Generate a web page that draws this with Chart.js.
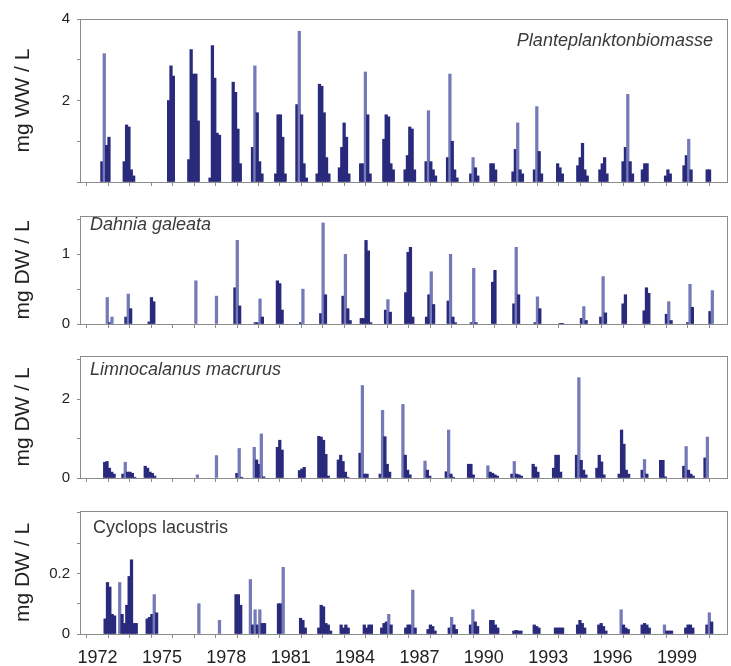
<!DOCTYPE html>
<html><head><meta charset="utf-8">
<script src="https://cdn.jsdelivr.net/npm/chart.js@4.4.1/dist/chart.umd.min.js"></script>
<style>
html,body{margin:0;padding:0;background:#fff;}
#wrap{position:relative;width:731px;height:666px;overflow:hidden;background:#fff;}
canvas{position:absolute;left:0;}
.lbl{position:absolute;font-family:"Liberation Sans",Arial,sans-serif;font-size:18px;color:#3a3a3a;font-style:italic;white-space:nowrap;line-height:18px;}
</style></head><body>
<div id="wrap">
<canvas id="c1" width="731" height="200" style="top:0px"></canvas>
<canvas id="c2" width="731" height="140" style="top:200px"></canvas>
<canvas id="c3" width="731" height="155" style="top:340px"></canvas>
<canvas id="c4" width="731" height="171" style="top:495px"></canvas>
<div class="lbl" style="top:31px;right:18px;">Planteplanktonbiomasse</div>
<div class="lbl" style="top:215px;left:90px;">Dahnia galeata</div>
<div class="lbl" style="top:360px;left:90px;">Limnocalanus macrurus</div>
<div class="lbl" style="top:518px;left:93px;font-style:normal;">Cyclops lacustris</div>
</div>
<script>
// ---- DATA ----
// each season: [year, time of first sample (fraction of year), sampled values]
const SAMPLE_STEP = 0.11; // years between consecutive samples
const xYears = [1972,1973,1974,1975,1976,1977,1978,1979,1980,1981,1982,1983,1984,1985,1986,1987,1988,1989,1990,1991,1992,1993,1994,1995,1996,1997,1998,1999,2000];
const xLabelYears = [1972,1975,1978,1981,1984,1987,1990,1993,1996,1999];

const phytoSeasons = [
 [1972,0.20,[0.5,3.15,0.9,1.1]],
 [1973,0.24,[0.5,1.4,1.35,0.3,0.15]],
 [1975,0.31,[2.0,2.85,2.6]],
 [1976,0.25,[0.55,3.25,2.65,2.65,1.5]],
 [1977,0.24,[0.1,3.35,2.55,1.2,1.15]],
 [1978,0.32,[2.45,2.2,1.3,0.45]],
 [1979,0.22,[0.85,2.85,1.7,0.5,0.2]],
 [1980,0.30,[0.2,1.65,1.65,1.1,0.2]],
 [1981,0.29,[1.9,3.7,1.65,0.45,0.1]],
 [1982,0.23,[0.2,2.4,2.35,1.7,0.6,0.2]],
 [1983,0.27,[0.35,0.85,1.45,1.1,0.2]],
 [1984,0.26,[0.45,0.45,2.7,1.65,0.2]],
 [1985,0.34,[1.05,1.65,1.6,0.45,0.3]],
 [1986,0.33,[0.3,0.65,1.35,1.3,0.3]],
 [1987,0.31,[0.5,1.75,0.5,0.3,0.15]],
 [1988,0.31,[0.6,2.65,1.0,0.3,0.1]],
 [1989,0.39,[0.2,0.6,0.35,0.15]],
 [1990,0.33,[0.45,0.45,0.3]],
 [1991,0.36,[0.25,0.8,1.45,0.3,0.2]],
 [1992,0.36,[0.3,1.85,0.75,0.2]],
 [1993,0.44,[0.45,0.35,0.2]],
 [1994,0.38,[0.4,0.6,0.95,0.3,0.15]],
 [1995,0.41,[0.3,0.45,0.6,0.2]],
 [1996,0.49,[0.5,0.85,2.15,0.5,0.2]],
 [1997,0.39,[0.3,0.45,0.45]],
 [1998,0.47,[0.15,0.3,0.2]],
 [1999,0.33,[0.4,0.65,1.05,0.3]],
 [2000,0.41,[0.3,0.3]]
];
const daphniaSeasons = [
 [1972,0.45,[0.38,0.02,0.1]],
 [1973,0.32,[0.1,0.43,0.22]],
 [1974,0.40,[0.03,0.38,0.32]],
 [1976,0.58,[0.62]],
 [1977,0.54,[0.4]],
 [1978,0.40,[0.52,1.2,0.26]],
 [1979,0.35,[0.02,0.02,0.36,0.1]],
 [1980,0.38,[0.62,0.58,0.2]],
 [1981,0.46,[0.02,0.5]],
 [1982,0.40,[0.15,1.45,0.42]],
 [1983,0.44,[0.4,1.0,0.22,0.05]],
 [1984,0.29,[0.08,0.08,1.2,1.05,0.02]],
 [1985,0.42,[0.2,0.35,0.17]],
 [1986,0.36,[0.45,1.03,1.1,0.1]],
 [1987,0.33,[0.1,0.42,0.75,0.28]],
 [1988,0.34,[0.33,1.0,0.1,0.02]],
 [1989,0.42,[0.02,0.8,0.02]],
 [1990,0.41,[0.6,0.77]],
 [1991,0.40,[0.29,1.1,0.42]],
 [1992,0.39,[0.02,0.39,0.22]],
 [1993,0.56,[0.01,0.01]],
 [1994,0.55,[0.08,0.25,0.05]],
 [1995,0.45,[0.1,0.68,0.16]],
 [1996,0.49,[0.29,0.42]],
 [1997,0.47,[0.19,0.52,0.44]],
 [1998,0.51,[0.14,0.32,0.05]],
 [1999,0.50,[0.02,0.57,0.24]],
 [2000,0.54,[0.18,0.48]]
];
const limnoSeasons = [
 [1972,0.33,[0.4,0.42,0.25,0.15,0.1]],
 [1973,0.18,[0.1,0.4,0.15,0.15,0.12,0.02]],
 [1974,0.22,[0.3,0.25,0.15,0.12,0.05]],
 [1976,0.65,[0.08]],
 [1977,0.54,[0.57]],
 [1978,0.49,[0.12,0.75,0.02]],
 [1979,0.30,[0.78,0.46,0.35,1.12,0.03]],
 [1980,0.38,[0.78,0.96,0.71]],
 [1981,0.41,[0.19,0.23,0.27]],
 [1982,0.31,[1.06,1.04,0.96,0.6,0.05]],
 [1983,0.22,[0.46,0.58,0.42,0.15,0.02]],
 [1984,0.23,[0.63,2.35,0.1,0.1]],
 [1985,0.17,[0.1,1.72,1.05,0.35,0.15]],
 [1986,0.23,[1.87,0.58,0.2,0.08]],
 [1987,0.26,[0.43,0.2,0.05]],
 [1988,0.25,[0.16,1.22,0.1,0.02]],
 [1989,0.29,[0.35,0.35,0.08]],
 [1990,0.19,[0.31,0.15,0.12,0.08,0.05]],
 [1991,0.31,[0.1,0.42,0.1,0.08,0.05]],
 [1992,0.30,[0.35,0.28,0.15]],
 [1993,0.25,[0.25,0.58,0.58,0.15]],
 [1994,0.32,[0.58,2.55,0.45,0.2,0.08]],
 [1995,0.27,[0.25,0.58,0.41,0.08]],
 [1996,0.31,[0.1,1.22,0.86,0.2,0.1]],
 [1997,0.38,[0.2,0.47,0.1]],
 [1998,0.24,[0.45,0.45,0.03]],
 [1999,0.32,[0.3,0.8,0.2,0.1,0.05]],
 [2000,0.31,[0.51,1.04]]
];
const cyclopsSeasons = [
 [1972,0.35,[0.05,0.17,0.155,0.065,0.06]],
 [1973,0.03,[0.17,0.065,0.035,0.095,0.19,0.245,0.035,0.035]],
 [1974,0.31,[0.05,0.055,0.065,0.13,0.07]],
 [1976,0.72,[0.1]],
 [1977,0.68,[0.045]],
 [1978,0.45,[0.13,0.13,0.095]],
 [1979,0.12,[0.18,0.03,0.08,0.03,0.08,0.035,0.035]],
 [1980,0.43,[0.1,0.1,0.22]],
 [1981,0.46,[0.052,0.045,0.02]],
 [1982,0.31,[0.02,0.095,0.09,0.035,0.03,0.01]],
 [1983,0.35,[0.03,0.02,0.03,0.02]],
 [1984,0.43,[0.03,0.02,0.03,0.03]],
 [1985,0.24,[0.02,0.035,0.04,0.065,0.03]],
 [1986,0.36,[0.02,0.03,0.03,0.145,0.02]],
 [1987,0.40,[0.015,0.03,0.025,0.01]],
 [1988,0.39,[0.02,0.055,0.03,0.015]],
 [1989,0.38,[0.03,0.08,0.04,0.025]],
 [1990,0.32,[0.045,0.045,0.03,0.02]],
 [1991,0.40,[0.01,0.012,0.01,0.01]],
 [1992,0.35,[0.03,0.025,0.02]],
 [1993,0.34,[0.02,0.02,0.02,0.02]],
 [1994,0.37,[0.03,0.045,0.035,0.02]],
 [1995,0.36,[0.03,0.035,0.025,0.01]],
 [1996,0.40,[0.08,0.03,0.02,0.015]],
 [1997,0.38,[0.03,0.035,0.03,0.02]],
 [1998,0.42,[0.03,0.01,0.01,0.01]],
 [1999,0.41,[0.02,0.03,0.03,0.02]],
 [2000,0.40,[0.03,0.07,0.04]]
];

const phytoYTicks = [0,1,2,3,4];          const phytoYLabels = ['','','2','','4'];
const daphniaYTicks = [0,0.5,1,1.5];      const daphniaYLabels = ['0','','1',''];
const limnoYTicks = [0,1,2,3];            const limnoYLabels = ['0','','2',''];
const cyclopsYTicks = [0,0.1,0.2,0.3,0.4];const cyclopsYLabels = ['0','','0.2','',''];

// ---- RENDER ----
const DARK = '#2a2a7c', LIGHT = '#7479b8';
const FONT = '"Liberation Sans", Arial, sans-serif';

function flatten(seasons){
  const pts = [], spike = [];
  seasons.forEach(([yr, start, vals]) => {
    vals.forEach((v, i) => {
      pts.push({x: yr + start + i*SAMPLE_STEP, y: v});
      const nb = Math.max(vals[i-1]||0, vals[i+1]||0);
      spike.push(v > 1.6*nb);
    });
  });
  return {pts, spike};
}

const boxPlugin = {
  id: 'box',
  afterDraw(chart){
    const a = chart.chartArea, c = chart.ctx;
    c.save();
    c.strokeStyle = '#8c8c8c'; c.lineWidth = 1;
    c.strokeRect(Math.round(a.left)+0.5, Math.round(a.top)+0.5, Math.round(a.right-a.left)-1, Math.round(a.bottom-a.top));
    c.restore();
  }
};

function makeChart(id, seasons, yMax, yTicks, yLabels, title, padTop, xAxisH, showX){
  const {pts, spike} = flatten(seasons);
  return new Chart(document.getElementById(id), {
    type: 'bar',
    data: { datasets: [{
      data: pts,
      barThickness: 2.6,
      borderWidth: 0,
      backgroundColor: ctx => spike[ctx.dataIndex] ? LIGHT : DARK,
      grouped: false
    }]},
    options: {
      responsive: false, animation: false,
      layout: { padding: {top: padTop, right: 3, left: 0, bottom: 0} },
      plugins: { legend: {display:false}, tooltip: {enabled:false} },
      scales: {
        x: {
          type: 'linear', min: 1971.7, max: 2000.86,
          afterBuildTicks: s => { s.ticks = xYears.map(v => ({value: v})); },
          afterFit: s => { s.height = xAxisH; },
          grid: { drawOnChartArea: false, drawTicks: true, tickLength: 4, color: '#8c8c8c' },
          border: { display: false },
          ticks: {
            display: showX, autoSkip: false, maxRotation: 0, padding: 9,
            color: '#222', font: {family: FONT, size: 18},
            callback: v => xLabelYears.includes(v) ? String(v) : ''
          }
        },
        y: {
          min: 0, max: yMax,
          afterBuildTicks: s => { s.ticks = yTicks.map(v => ({value: v})); },
          afterFit: s => { s.width = 80; },
          grid: { drawOnChartArea: false, drawTicks: true, tickLength: 3, color: '#8c8c8c' },
          border: { display: false },
          ticks: {
            padding: 7, color: '#222', font: {family: FONT, size: 15},
            callback: (v, i) => yLabels[yTicks.indexOf(v)] ?? ''
          },
          title: { display: true, text: title, color: '#222', font: {family: FONT, size: 21}, padding: {top: 11, bottom: 0} }
        }
      }
    },
    plugins: [boxPlugin]
  });
}

makeChart('c1', phytoSeasons, 4, phytoYTicks, phytoYLabels, 'mg WW / L', 19, 18, false);
makeChart('c2', daphniaSeasons, 1.55, daphniaYTicks, daphniaYLabels, 'mg DW / L', 5, 14.5, false);
makeChart('c3', limnoSeasons, 3.1, limnoYTicks, limnoYLabels, 'mg DW / L', 5, 17, false);
makeChart('c4', cyclopsSeasons, 0.406, cyclopsYTicks, cyclopsYLabels, 'mg DW / L', 9, 32, true);
</script>
</body></html>
